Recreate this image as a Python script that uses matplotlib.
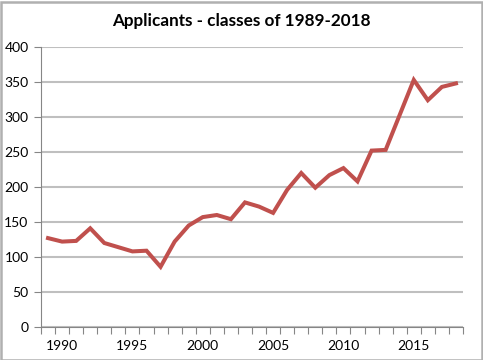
import matplotlib
matplotlib.use("Agg")
import matplotlib.pyplot as plt
from matplotlib.patches import Rectangle
import numpy as np

years = list(range(1989, 2019))
applicants = [127, 122, 123, 141, 120, 114, 108, 109, 86, 122, 145, 157, 160, 154,
              178, 172, 163, 196, 220, 199, 217, 227, 208, 252, 253, 303, 353, 324, 343, 348]
title = "Applicants - classes of 1989-2018"
y_ticks = [0, 50, 100, 150, 200, 250, 300, 350, 400]
x_label_years = [1990, 1995, 2000, 2005, 2010, 2015]

plt.rcParams['font.family'] = ['Lato', 'DejaVu Sans']

fig = plt.figure(figsize=(4.83, 3.6), dpi=100)
W, H = 483, 360
ax = fig.add_axes([41 / W, 1 - 327 / H, (463 - 41) / W, (327 - 47) / H])

idx = np.arange(len(years))
ax.plot(idx, applicants, color="#C0504D", lw=2.9, solid_joinstyle="miter", zorder=3)

ax.set_xlim(-0.5, len(years) - 0.5)
ax.set_ylim(0, 400)
ax.set_yticks(y_ticks)
ax.set_yticklabels([str(v) for v in y_ticks], fontsize=10)
ax.yaxis.grid(True, color="#BFBFBF", lw=1.5)
ax.set_axisbelow(True)

# category boundary ticks
ax.set_xticks(np.arange(-0.5, len(years) + 0.5, 1.0))
ax.set_xticklabels([])
ax.tick_params(axis="x", which="major", length=5, width=0.8, color="#868686", direction="out")
label_pos = [years.index(y) for y in x_label_years]
ax.set_xticks(label_pos, minor=True)
ax.set_xticklabels([str(y) for y in x_label_years], minor=True, fontsize=10)
ax.tick_params(axis="x", which="minor", length=0, pad=9)
ax.tick_params(axis="y", length=5, width=0.8, color="#868686", pad=4)

for s in ["top", "right"]:
    ax.spines[s].set_visible(False)
for s in ["left", "bottom"]:
    ax.spines[s].set_color("#868686")
    ax.spines[s].set_linewidth(0.8)

fig.text(241.5 / W, 1 - 21 / H, title, ha="center", va="center", fontsize=12.3, fontweight="bold")

fig.patches.append(Rectangle((0.5 / W, 0.5 / H), 1 - 2 / W, 1 - 2 / H, transform=fig.transFigure,
                             fill=False, edgecolor="#B0B0B0", lw=1.8))

fig.savefig("out.png", dpi=100)
